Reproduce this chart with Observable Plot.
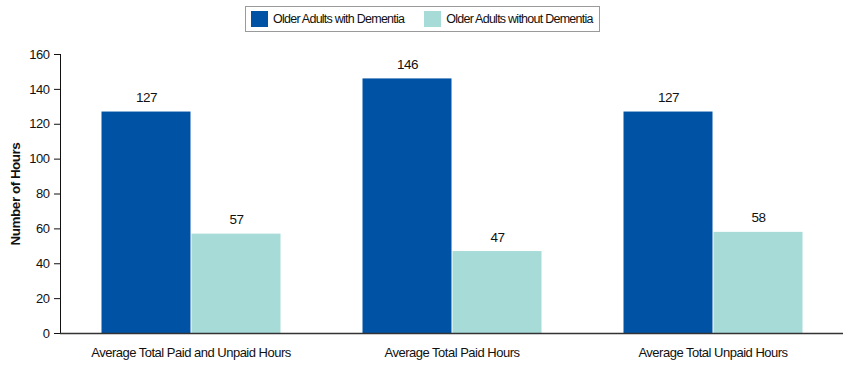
<!DOCTYPE html>
<html>
<head>
<meta charset="utf-8">
<script src="https://cdn.jsdelivr.net/npm/d3@7"></script>
<script src="https://cdn.jsdelivr.net/npm/@observablehq/plot@0.6"></script>
<style>
  body { margin: 0; background: #fff; font-family: "Liberation Sans", Arial, sans-serif; }
  #wrap { position: relative; width: 850px; height: 368px; }
  #legend { position: absolute; left: 245px; top: 6px; width: 355px; height: 26px; border: 1px solid #9a9a9a; box-sizing: border-box; display: flex; align-items: center; font-size: 12.5px; letter-spacing: -0.75px; color: #111; white-space: nowrap; }
  .item { display: flex; align-items: center; margin-left: 5px; }
  .sw { width: 17px; height: 16px; margin-right: 5px; flex: none; }
  #chart { position: absolute; left: 0; top: 40px; }
  #chart svg text { letter-spacing: -0.5px; }
</style>
</head>
<body>
<div id="wrap">
  <div id="legend"></div>
  <div id="chart"></div>
</div>
<script>
const categories = ["Average Total Paid and Unpaid Hours", "Average Total Paid Hours", "Average Total Unpaid Hours"];
const series = ["Older Adults with Dementia", "Older Adults without Dementia"];
const withDementia = [127, 146, 127];
const withoutDementia = [57, 47, 58];
const yTicks = [0, 20, 40, 60, 80, 100, 120, 140, 160];
const colors = ["#0052a5", "#a7dbd8"];

const data = [];
categories.forEach((c, i) => {
  data.push({category: c, series: series[0], value: withDementia[i]});
  data.push({category: c, series: series[1], value: withoutDementia[i]});
});

const legend = document.getElementById("legend");
series.forEach((s, i) => {
  const it = document.createElement("div");
  it.className = "item";
  if (i === 1) it.style.marginLeft = "20px";
  it.innerHTML = `<div class="sw" style="background:${colors[i]}"></div><span>${s}</span>`;
  legend.appendChild(it);
});

const plot = Plot.plot({
  width: 850,
  height: 328,
  marginLeft: 59,
  marginRight: 6,
  marginTop: 14,
  marginBottom: 35,
  style: {fontFamily: '"Liberation Sans", Arial, sans-serif', fontSize: "13px", color: "#111"},
  fx: {domain: categories, padding: 0, label: null, tickSize: 0, tickPadding: 14, axis: "bottom"},
  x: {domain: series, padding: 0, insetLeft: 40.5, insetRight: 40.5, axis: null},
  y: {domain: [0, 160], ticks: yTicks, tickSize: 6, tickPadding: 5, line: true, label: "Number of Hours", labelAnchor: "center", labelOffset: 50},
  color: {domain: series, range: colors},
  marks: [
    Plot.barY(data, {fx: "category", x: "series", y: "value", fill: "series", insetLeft: 0.5, insetRight: 0.5}),
    Plot.text(data, {fx: "category", x: "series", y: "value", text: d => String(d.value), lineAnchor: "bottom", dy: -10, fill: "#111", fontSize: 13.5}),
    Plot.ruleY([0], {stroke: "#333", strokeWidth: 1.5})
  ]
});
document.getElementById("chart").appendChild(plot);
plot.querySelectorAll("text").forEach(t => {
  if (t.textContent.includes("Number of Hours")) {
    t.textContent = "Number of Hours";
    t.style.fontWeight = "bold";
    t.style.fontSize = "13.5px";
  }
});
</script>
</body>
</html>
